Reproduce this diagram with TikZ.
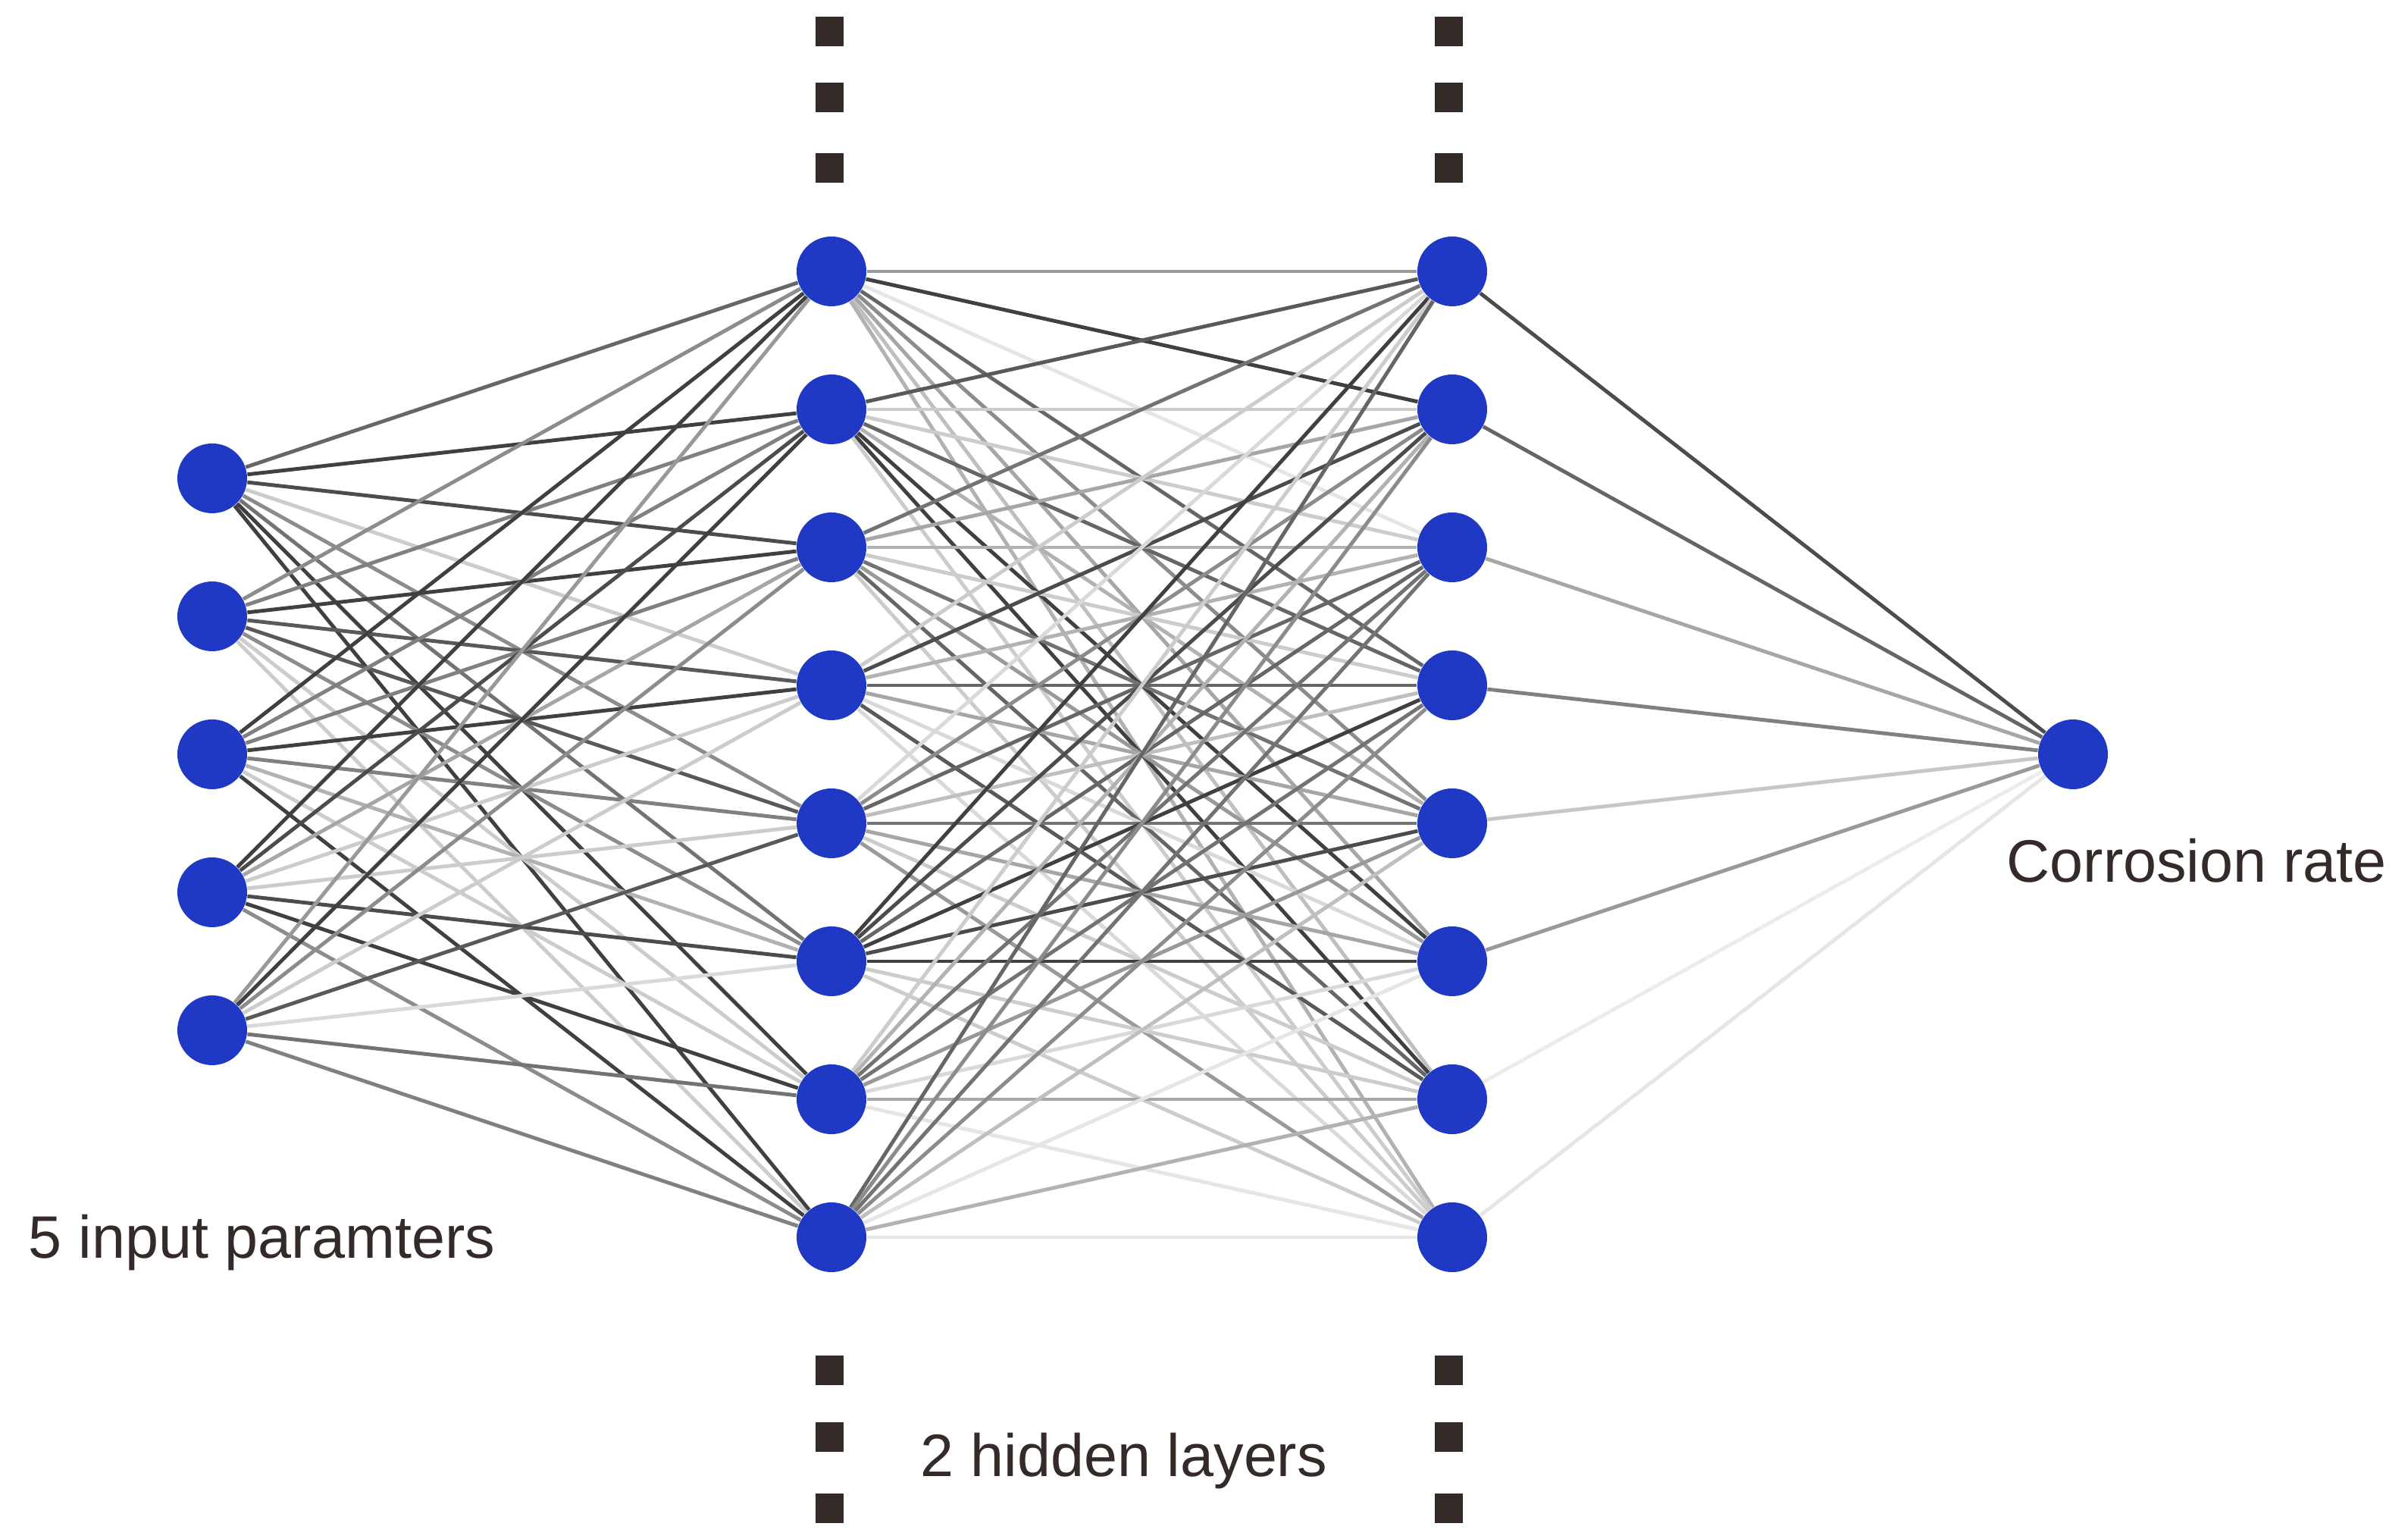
\documentclass[tikz,border=0pt]{standalone}
\usepackage{fontspec}
\setmainfont{Liberation Sans}
\definecolor{nodeblue}{RGB}{31,57,196}
\definecolor{inkbrown}{RGB}{52,42,40}
\pgfdeclarelayer{edges}
\pgfsetlayers{edges,main}
\begin{document}
\begin{tikzpicture}[
neuron/.style = {circle, fill = nodeblue, minimum size = 0.92cm, inner sep = 0pt},
dotmark/.style = {fill = inkbrown, minimum width = 0.37cm, minimum height = 0.39cm, inner sep = 0pt},
caption/.style = {text = inkbrown, font = \fontsize{22.5}{27}\selectfont, anchor = base west, inner sep = 0pt},
wire/.style = {line width = 1.4pt}
]
\useasboundingbox (0,0) rectangle (31.77,20.30);
% neurons
\foreach \i in {1,...,5}{
\node [neuron] (in\i) at (2.80,{10.35+(3-\i)*1.82}) {};
}
\foreach \j in {1,...,8}{
\node [neuron] (ha\j) at (10.97,{10.35+(4.5-\j)*1.82}) {};
\node [neuron] (hb\j) at (19.16,{10.35+(4.5-\j)*1.82}) {};
}
\node [neuron] (out) at (27.35,10.35) {};
% the dots above and below the hidden layers
\foreach \y [count = \k] in {19.88,19.01,18.08,2.22,1.34,0.40}{
\node [dotmark] (sqa\k) at (10.94,\y) {};
\node [dotmark] (sqb\k) at (19.11,\y) {};
}
\begin{pgfonlayer}{edges}
% input -> first hidden layer
\foreach \i/\glist in {1/{60,75,70,20,45,55,75,75},
                       2/{45,50,75,65,65,45,20,20},
                       3/{75,50,50,75,50,30,20,75},
                       4/{75,70,35,20,20,70,75,45},
                       5/{40,75,45,20,65,15,55,50}}{
\foreach \g [count = \j] in \glist{
\draw [wire, black!\g] (in\i) -- (ha\j);
}
}
% first -> second hidden layer
\foreach \i/\glist in {1/{40,75,10,60,45,35,25,30},
                       2/{65,20,20,60,30,75,75,20},
                       3/{55,35,30,20,55,40,60,20},
                       4/{20,70,30,60,35,15,65,15},
                       5/{15,45,60,25,55,35,20,40},
                       6/{75,70,60,75,70,75,20,20},
                       7/{20,30,55,55,40,15,35,10},
                       8/{60,45,55,45,25,10,30,10}}{
\foreach \g [count = \j] in \glist{
\draw [wire, black!\g] (ha\i) -- (hb\j);
}
}
% second hidden layer -> output
\foreach \j/\g in {1/70,2/60,3/35,4/50,5/22,6/40,7/8,8/10}{
\draw [wire, black!\g] (hb\j) -- (out);
}
\end{pgfonlayer}
% labels
\node [caption] (inlabel) at (0.37,3.70) {5 input paramters};
\node [caption] (hidlabel) at (12.14,0.82) {2 hidden layers};
\node [caption] (outlabel) at (26.47,8.66) {Corrosion rate};
\end{tikzpicture}
\end{document}
